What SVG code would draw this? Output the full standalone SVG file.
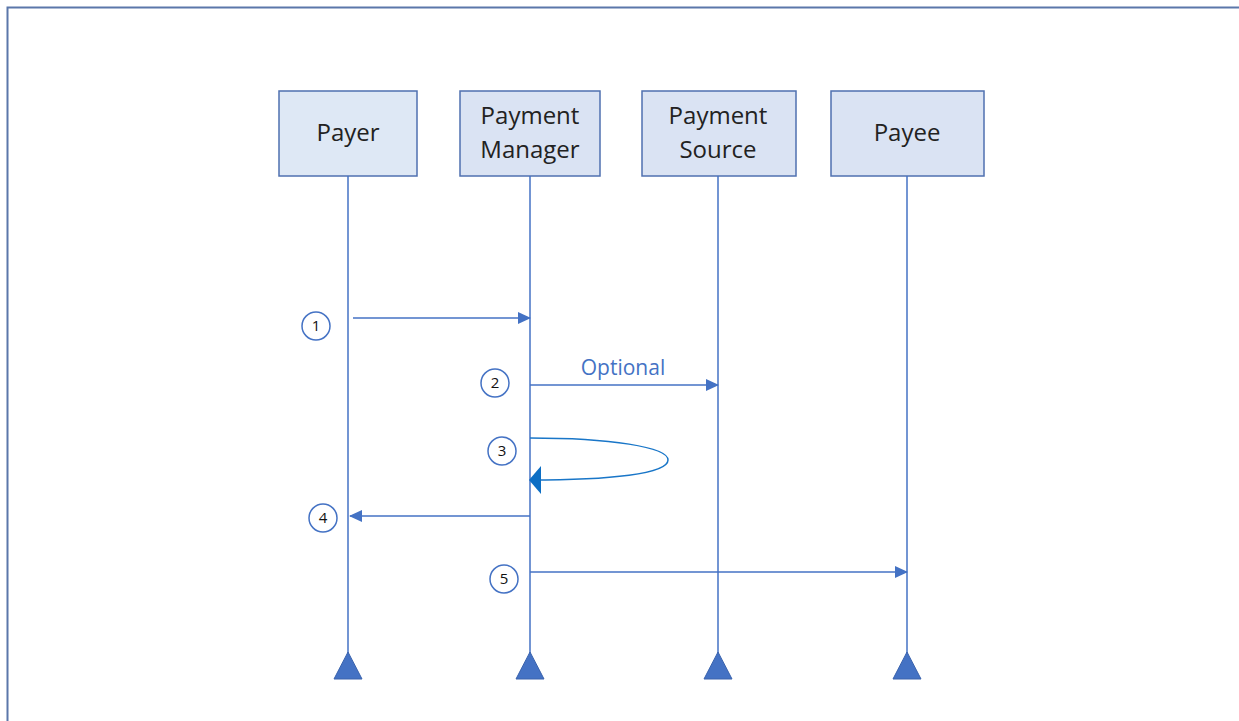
<svg xmlns="http://www.w3.org/2000/svg" width="1239" height="721" viewBox="0 0 1239 721">
  <style>
    .box { stroke: #4f70b0; stroke-width: 1.5; }
    .lbl { font-family: "Open Sans", "Noto Sans", sans-serif; font-size: 24px; fill: #222; text-anchor: middle; }
    .life { stroke: #4472c4; stroke-width: 1.5; fill: none; }
    .msg { stroke: #4472c4; stroke-width: 1.5; fill: none; }
    .num { fill: #fff; stroke: #4472c4; stroke-width: 1.5; }
    .numt { font-family: "Open Sans", "Noto Sans", sans-serif; font-size: 15px; fill: #111; text-anchor: middle; }
    .end { fill: #4472c4; stroke: #3a63ad; stroke-width: 1; }
  </style>
  <defs>
    <marker id="ah" markerWidth="13" markerHeight="12" refX="12" refY="6" orient="auto" markerUnits="userSpaceOnUse">
      <path d="M0,0 L13,6 L0,12 Z" fill="#4472c4"/>
    </marker>
    <marker id="ah3" markerWidth="12" markerHeight="28" refX="11" refY="14" orient="auto" markerUnits="userSpaceOnUse">
      <path d="M0,0 L12,14 L0,28 Z" fill="#0c6ec4"/>
    </marker>
  </defs>
  <rect width="1239" height="721" fill="#fff"/>
  <path d="M7.5,721 V7.5 H1239" fill="none" stroke="#5b77aa" stroke-width="2"/>

  <g id="payer">
    <rect class="box" x="279" y="91" width="138" height="85" fill="#dee8f5"/>
    <text class="lbl" x="348" y="141">Payer</text>
    <line class="life" x1="348" y1="176" x2="348" y2="654"/>
    <polygon class="end" points="348,652 334,679 362,679"/>
  </g>
  <g id="payment-manager">
    <rect class="box" x="460" y="91" width="140" height="85" fill="#dae3f3"/>
    <text class="lbl" x="530" y="124">Payment</text>
    <text class="lbl" x="530" y="158">Manager</text>
    <line class="life" x1="530" y1="176" x2="530" y2="654"/>
    <polygon class="end" points="530,652 516,679 544,679"/>
  </g>
  <g id="payment-source">
    <rect class="box" x="642" y="91" width="154" height="85" fill="#dae3f3"/>
    <text class="lbl" x="718" y="124">Payment</text>
    <text class="lbl" x="718" y="158">Source</text>
    <line class="life" x1="718" y1="176" x2="718" y2="654"/>
    <polygon class="end" points="718,652 704,679 732,679"/>
  </g>
  <g id="payee">
    <rect class="box" x="831" y="91" width="153" height="85" fill="#dae3f3"/>
    <text class="lbl" x="907" y="141">Payee</text>
    <line class="life" x1="907" y1="176" x2="907" y2="654"/>
    <polygon class="end" points="907,652 893,679 921,679"/>
  </g>

  <g id="connectors">
    <line class="msg" x1="353" y1="318" x2="530" y2="318" marker-end="url(#ah)"/>
    <line class="msg" x1="530" y1="385" x2="718" y2="385" marker-end="url(#ah)"/>
    <text x="623" y="375" font-family="'Open Sans', 'Noto Sans', sans-serif" font-size="21" fill="#4472c4" text-anchor="middle">Optional</text>
    <path d="M530,438 C610,438 668,447 668,460 C668,474 610,480 530,480" fill="none" stroke="#1976c8" stroke-width="1.5" marker-end="url(#ah3)"/>
    <line class="msg" x1="530" y1="516" x2="350" y2="516" marker-end="url(#ah)"/>
    <line class="msg" x1="530" y1="572" x2="907" y2="572" marker-end="url(#ah)"/>
  </g>

  <g id="step-1"><circle class="num" cx="316" cy="326" r="14"/><text class="numt" x="316" y="331">1</text></g>
  <g id="step-2"><circle class="num" cx="495" cy="383" r="14"/><text class="numt" x="495" y="388">2</text></g>
  <g id="step-3"><circle class="num" cx="502" cy="451" r="14"/><text class="numt" x="502" y="456">3</text></g>
  <g id="step-4"><circle class="num" cx="323" cy="518" r="14"/><text class="numt" x="323" y="523">4</text></g>
  <g id="step-5"><circle class="num" cx="504" cy="579" r="14"/><text class="numt" x="504" y="584">5</text></g>
</svg>
